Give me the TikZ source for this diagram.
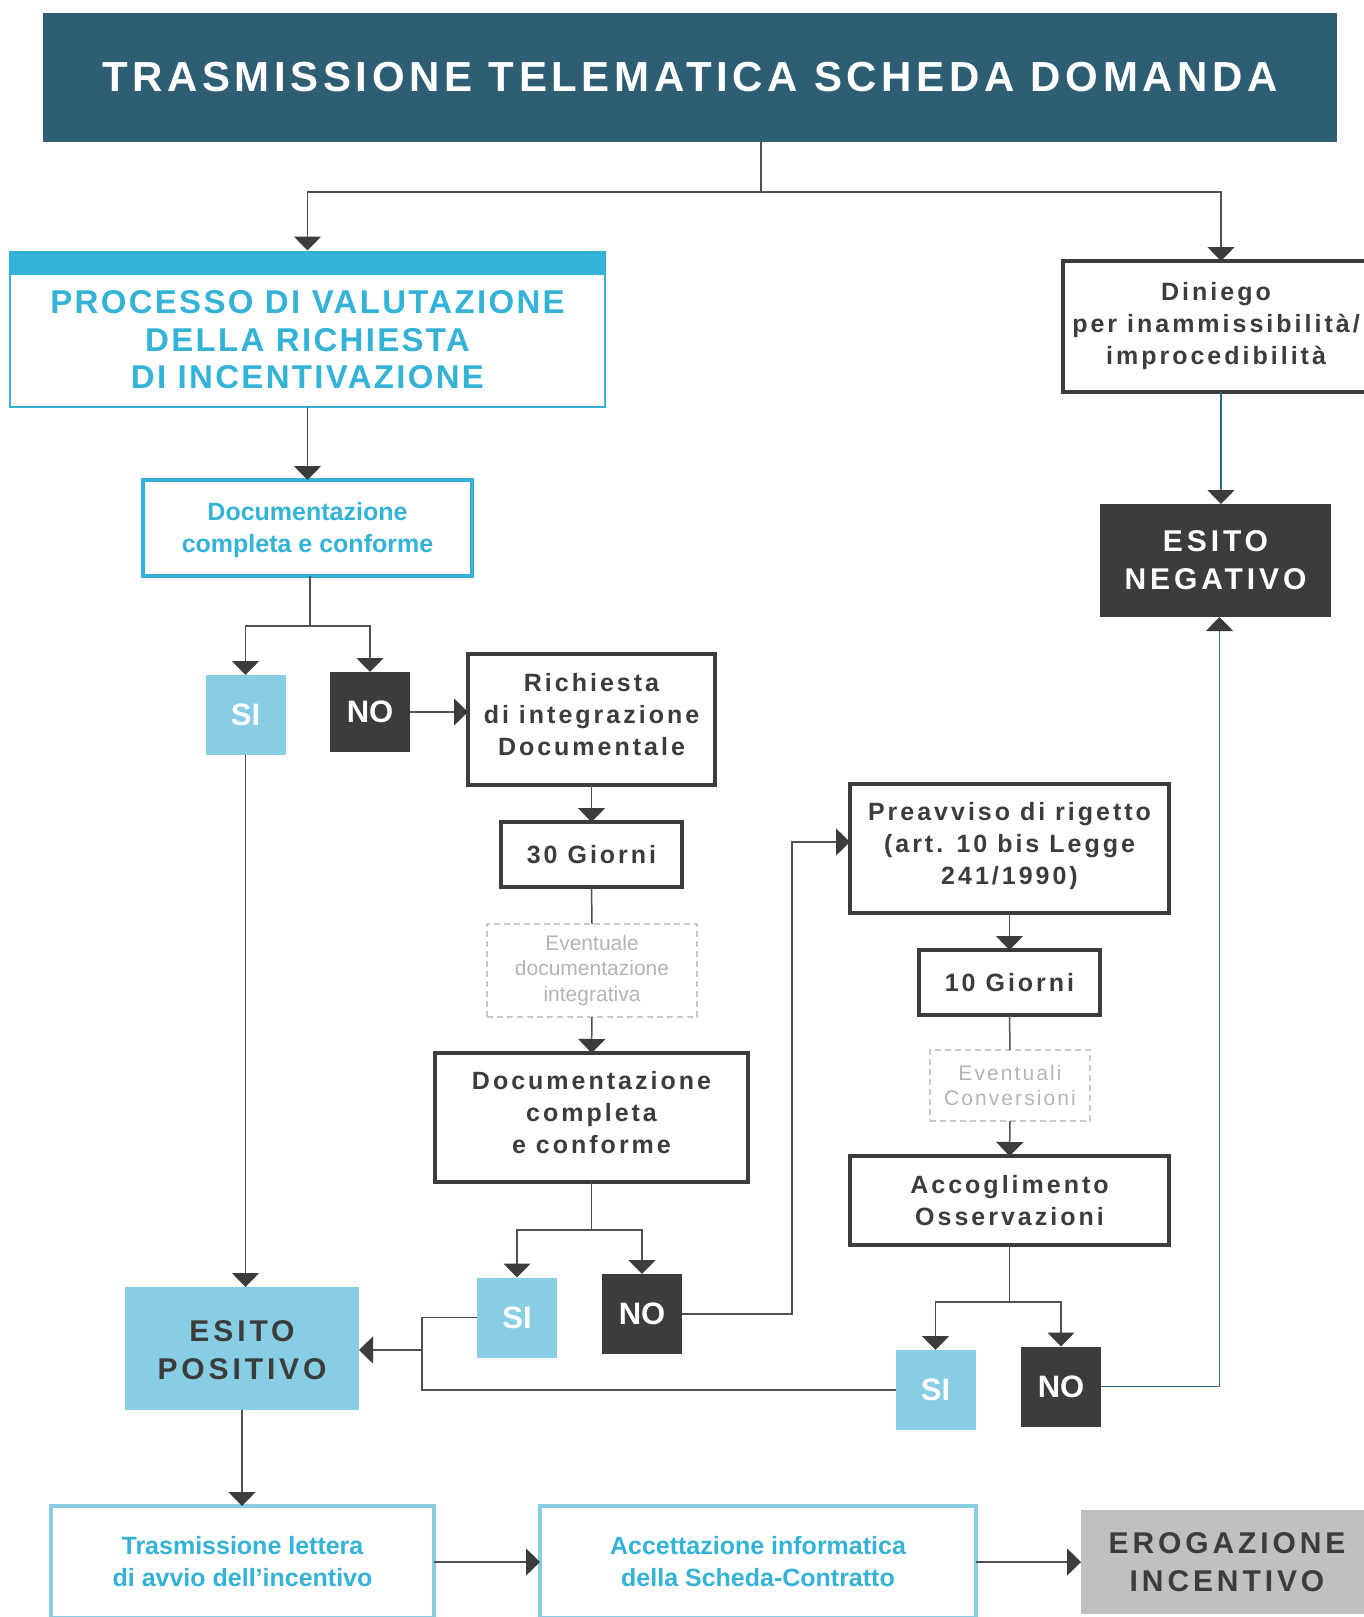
\documentclass[tikz,border=0pt]{standalone}
\usepackage{fontspec}
\setmainfont{Liberation Sans}
\newfontfamily\titlefont[LetterSpace=11]{Liberation Sans}
\newfontfamily\headfont[LetterSpace=13]{Liberation Sans}
\newfontfamily\procfont[LetterSpace=7]{Liberation Sans}
\newfontfamily\boxfont[LetterSpace=12]{Liberation Sans}
\newfontfamily\notefont[LetterSpace=10]{Liberation Sans}
\usetikzlibrary{
  arrows.meta,
  positioning
}
\definecolor{titleC}{HTML}{2E5E73}
\definecolor{cyanC}{HTML}{33B3D7}
\definecolor{lightC}{HTML}{87CEE4}
\definecolor{darkC}{HTML}{3C3C3B}
\definecolor{greyC}{HTML}{C0C0C0}
\definecolor{dashC}{HTML}{C8C8C8}
\definecolor{noteC}{HTML}{B4B4B4}
\definecolor{lineC}{HTML}{505050}
\definecolor{tealC}{HTML}{2E6A85}
\tikzset{
  every node/.style={inner sep=0pt, outer sep=0pt, align=center},
  boxtext/.style={text=darkC, font=\boxfont\bfseries\fontsize{25}{32}\selectfont},
  darkbox/.style={draw=darkC, line width=4pt, fill=white, boxtext},
  cyanbox/.style={draw=cyanC, line width=4pt, fill=white, text=cyanC,
    font=\bfseries\fontsize{25}{32}\selectfont},
  lightbox/.style={draw=lightC, line width=4pt, fill=white, text=cyanC,
    font=\bfseries\fontsize{25}{32}\selectfont},
  notebox/.style={draw=dashC, line width=2pt, dash pattern=on 6pt off 4pt,
    fill=white, text=noteC, font=\fontsize{21}{25.5}\selectfont},
  sibox/.style={fill=lightC, text=white, minimum width=80pt, minimum height=80pt,
    font=\bfseries\fontsize{31}{31}\selectfont},
  nobox/.style={fill=darkC, text=white, minimum width=80pt, minimum height=80pt,
    font=\bfseries\fontsize{31}{31}\selectfont},
  esito/.style={text=#1, font=\headfont\bfseries\fontsize{30}{38}\selectfont},
  link/.style={draw=lineC, line width=1.5pt},
  tealink/.style={draw=tealC, line width=1.6pt}
}

\begin{document}
\begin{tikzpicture}[x=1pt, y=-1pt,
  >={Triangle[width=27pt,length=14pt,color=darkC]}]
\useasboundingbox (0,0) rectangle (1363,1617);

% top
\node[fill=titleC, text=white, minimum width=1294pt, minimum height=129pt,
  font=\titlefont\bfseries\fontsize{42}{42}\selectfont] (title) at (690,77)
  {TRASMISSIONE TELEMATICA SCHEDA DOMANDA};

\node[draw=cyanC, line width=2pt, fill=white, text=cyanC, minimum width=595pt,
  minimum height=133pt, font=\procfont\bfseries\fontsize{33}{37.5}\selectfont]
  (processo) at (307.5,340)
  {PROCESSO DI VALUTAZIONE\\DELLA RICHIESTA\\DI INCENTIVAZIONE};
\node[fill=cyanC, minimum width=597pt, minimum height=24pt, above=-1pt of processo]
  (processobar) {};

\node[darkbox, minimum width=306pt, minimum height=131pt] (diniego) at (1216,326.5)
  {Diniego\\per inammissibilità/\\improcedibilità};
\node[fill=darkC, minimum width=231pt, minimum height=113pt] (esitoneg) at (1215.5,560.5)
  {};
\node[esito=white] at (esitoneg) {ESITO\\NEGATIVO};

% left branch
\node[cyanbox, minimum width=329pt, minimum height=96pt] (doc) at (307.5,528) {};
\node[text=cyanC, font=\bfseries\fontsize{25}{32}\selectfont] at ([yshift=-2pt]doc)
  {Documentazione\\completa e conforme};
\node[sibox] (si) at (245.5,715) {SI};
\node[nobox] (no) at (370,712) {NO};
\node[darkbox, minimum width=247pt, minimum height=131pt] (richiesta) at (591.5,719.5) {};
\node[boxtext] at ([yshift=5pt]richiesta) {Richiesta\\di integrazione\\Documentale};
\node[darkbox, minimum width=181pt, minimum height=65pt] (giorni) at (591.5,854.5)
  {30 Giorni};
\node[notebox, minimum width=210pt, minimum height=93pt] (evdoc) at (592,970.5)
  {Eventuale\\documentazione\\integrativa};
\node[darkbox, minimum width=313pt, minimum height=129pt] (docint) at (591.5,1117.5) {};
\node[boxtext] at ([yshift=5pt]docint) {Documentazione\\completa\\e conforme};
\node[sibox] (sii) at (517,1317.5) {SI};
\node[nobox] (noi) at (642,1314) {NO};

% right branch
\node[darkbox, minimum width=319pt, minimum height=129pt] (preavviso) at (1009.5,848.5) {};
\node[boxtext] at ([yshift=2.5pt]preavviso)
  {Preavviso di rigetto\\(art. 10 bis Legge\\241/1990)};
\node[darkbox, minimum width=181pt, minimum height=65pt] (giornii) at (1009.5,982.5)
  {10 Giorni};
\node[notebox, font=\notefont\fontsize{21}{25.5}\selectfont, minimum width=160pt,
  minimum height=71pt] (evconv) at (1010,1085.5) {Eventuali\\Conversioni};
\node[darkbox, minimum width=319pt, minimum height=89pt] (accoglimento) at (1009.5,1200.5)
  {Accoglimento\\Osservazioni};
\node[sibox] (siii) at (935.5,1390) {SI};
\node[nobox] (noii) at (1061,1386.5) {NO};

% bottom
\node[fill=lightC, minimum width=234pt, minimum height=123pt] (esitopos) at (242,1348.5) {};
\node[esito=darkC] at ([yshift=-2pt]esitopos) {ESITO\\POSITIVO};
\node[lightbox, minimum width=383pt, minimum height=112pt] (trasm) at (242.5,1562)
  {Trasmissione lettera\\di avvio dell’incentivo};
\node[lightbox, minimum width=436pt, minimum height=112pt] (accett) at (758,1562)
  {Accettazione informatica\\della Scheda-Contratto};
\node[fill=greyC, minimum width=292pt, minimum height=104pt] (erog) at (1227,1562) {};
\node[esito=darkC] at (erog) {EROGAZIONE\\INCENTIVO};

% connectors
\coordinate (t0) at (761,192);
\draw[link] (title.south -| t0) -- (t0);
\draw[link, ->] (t0) -| (processobar.north);
\draw[link, ->] (t0) -| ([xshift=5pt]diniego.north);
\draw[tealink, ->] ([xshift=5pt]diniego.south) -- ([xshift=5pt]diniego.south |- esitoneg.north);
\draw[link, ->] (processo.south) -- (doc.north);

\coordinate (s0) at (310,626);
\draw[link] (doc.south -| s0) -- (s0);
\draw[link, ->] (s0) -| (si.north);
\draw[link, ->] (s0) -| (no.north);
\draw[link, ->] (no.east) -- (no.east -| richiesta.west);
\draw[link, ->] (richiesta.south) -- (giorni.north);
\draw[link] (giorni.south) -- (evdoc.north);
\draw[link, ->] (evdoc.south) -- (docint.north);

\coordinate (s1) at (591.5,1230);
\draw[link] (docint.south) -- (s1);
\draw[link, ->] (s1) -| (sii.north);
\draw[link, ->] (s1) -| (noi.north);
\coordinate (c1) at (792,842);
\draw[link, ->] (noi.east) -| (c1) -- (c1 -| preavviso.west);

\draw[link, ->] (preavviso.south) -- (giornii.north);
\draw[link] (giornii.south) -- (evconv.north);
\draw[link, ->] (evconv.south) -- (accoglimento.north);
\coordinate (s2) at (1009.5,1302);
\draw[link] (accoglimento.south) -- (s2);
\draw[link, ->] (s2) -| (siii.north);
\draw[link, ->] (s2) -| (noii.north);
\draw[tealink, ->] (noii.east) -| ([xshift=4pt]esitoneg.south);

\draw[link, ->] (si.south) -- (si.south |- esitopos.north);
\coordinate (m0) at (422,1350);
\draw[link] (sii.west) -| (m0) |- (siii.west);
\draw[link, ->] (m0) -- (m0 -| esitopos.east);
\draw[link, ->] (esitopos.south) -- (esitopos.south |- trasm.north);
\draw[link, ->] (trasm.east) -- (accett.west);
\draw[link, ->] (accett.east) -- (erog.west);
\end{tikzpicture}
\end{document}
